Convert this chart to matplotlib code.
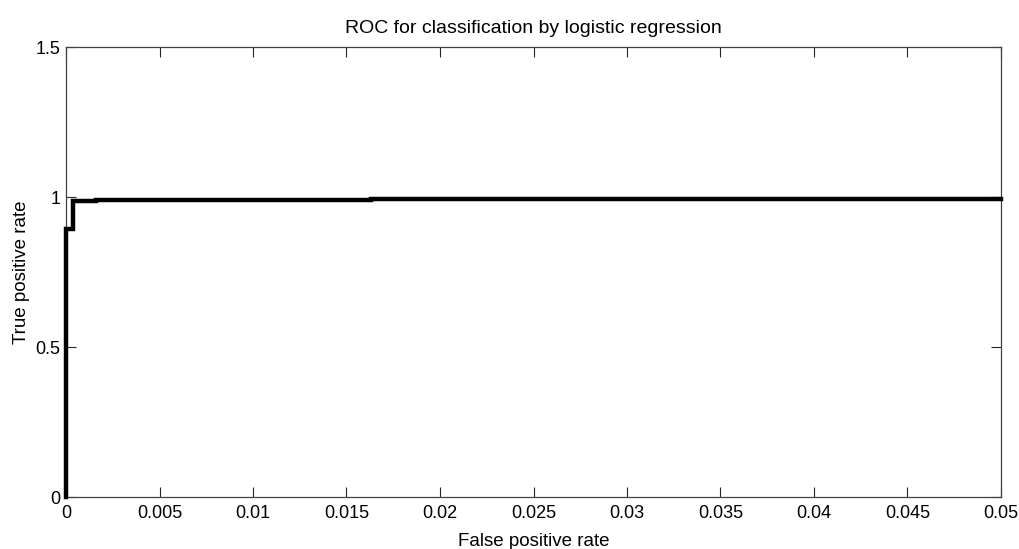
import matplotlib
matplotlib.use("Agg")
import matplotlib.pyplot as plt

fpr = [0, 0, 0.00037, 0.00037, 0.0016, 0.0016, 0.0163, 0.0163, 0.05]
tpr = [0, 0.893, 0.893, 0.987, 0.987, 0.99, 0.99, 0.995, 0.995]
xticks = [0, 0.005, 0.01, 0.015, 0.02, 0.025, 0.03, 0.035, 0.04, 0.045, 0.05]
xticklabels = ["0", "0.005", "0.01", "0.015", "0.02", "0.025", "0.03", "0.035", "0.04", "0.045", "0.05"]
yticks = [0, 0.5, 1, 1.5]
yticklabels = ["0", "0.5", "1", "1.5"]

plt.rcParams['font.family'] = ['Liberation Sans', 'DejaVu Sans']
fig = plt.figure(figsize=(10.2, 5.49), dpi=100)
ax = fig.add_axes([66/1020, 52/549, 935/1020, 450/549])
ax.plot(fpr, tpr, color='black', linewidth=3.2, solid_joinstyle='miter', clip_on=False, zorder=3)
ax.set_xlim(0, 0.05)
ax.set_ylim(0, 1.5)
ax.set_xticks(xticks)
ax.set_xticklabels(xticklabels)
ax.set_yticks(yticks)
ax.set_yticklabels(yticklabels)
ax.tick_params(direction='in', length=7, width=0.8, colors='#262626', labelsize=13,
               top=True, right=True, labelcolor='black')
ax.tick_params(axis='x', pad=6)
ax.tick_params(axis='y', pad=4)
for s in ax.spines.values():
    s.set_color('#404040')
    s.set_linewidth(0.9)
ax.set_title("ROC for classification by logistic regression", fontsize=14, pad=10)
ax.set_xlabel("False positive rate", fontsize=13.5, labelpad=8)
ax.set_ylabel("True positive rate", fontsize=13.5, labelpad=4)
fig.savefig("out.png", dpi=100)
